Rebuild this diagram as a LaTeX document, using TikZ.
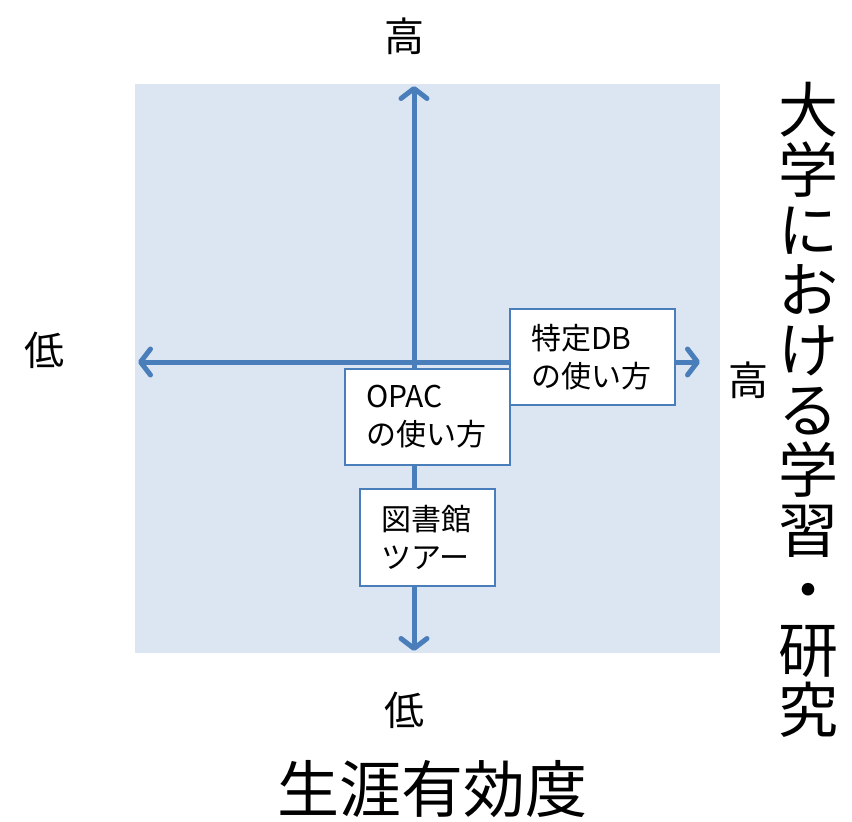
\documentclass[tikz,border=0pt]{standalone}
\usepackage{fontspec}
\setmainfont{Noto Sans CJK JP}
\usetikzlibrary{arrows.meta}
\definecolor{bgblue}{HTML}{DCE6F2}
\definecolor{axisblue}{HTML}{4A7EBB}
\begin{document}
\begin{tikzpicture}[x=1pt,y=-1pt,
  axis/.style={draw=axisblue,line width=5pt,
    {Straight Barb[length=10pt,width=26pt,line width=5pt,round]}-{Straight Barb[length=10pt,width=26pt,line width=5pt,round]}},
  itembox/.style={draw=axisblue,line width=2pt,fill=white,align=left,
    inner xsep=21pt,inner ysep=0pt,font=\fontsize{30}{38}\selectfont},
  lbl/.style={font=\fontsize{40}{48}\selectfont,inner sep=0pt}]
\useasboundingbox (0,0) rectangle (852,822);
\fill[bgblue] (135,84) rectangle (720,653);
\coordinate (top) at (414,86);
\coordinate (bot) at (414,651);
\coordinate (lft) at (138,362);
\coordinate (rgt) at (700,362);
\draw[axis] (bot) -- (top);
\draw[axis] (lft) -- (rgt);
\node[itembox,text width=123pt,minimum height=96pt] (db) at (592.5,357) {特定DB\\の使い方};
\node[itembox,text width=123pt,minimum height=96pt] (opac) at (427.5,417) {OPAC\\の使い方};
\node[itembox,text width=93pt,minimum height=97pt] (tour) at (427.5,537.5) {図書館\\ツアー};
\node[lbl] (hitop) at (404,36) {高};
\node[lbl] (lolft) at (44,350) {低};
\node[lbl] (hirgt) at (748,380) {高};
\node[lbl] (lobot) at (404,710) {低};
\node[font=\fontsize{62}{68}\selectfont,inner sep=0pt] (xlab) at (432,789) {生涯有効度};
\node[font=\fontsize{60}{60}\selectfont,align=center,inner sep=0pt] (ylab) at (808,410)
  {大\\学\\に\\お\\け\\る\\学\\習\\・\\研\\究};
\end{tikzpicture}
\end{document}
